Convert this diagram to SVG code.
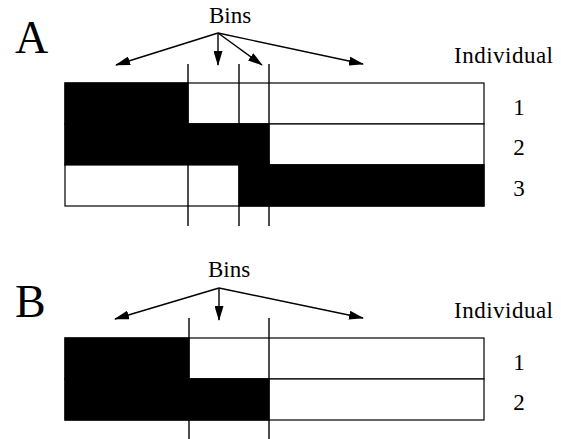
<svg xmlns="http://www.w3.org/2000/svg" width="561" height="439" viewBox="0 0 561 439">
<style>
text{font-family:"Liberation Serif","Times New Roman",Times,"Noto Serif","DejaVu Serif",serif;fill:#000}
.big{font-size:46px}
.lbl{font-size:23px}
.cell{fill:#fff;stroke:#000;stroke-width:1.2}
.blk{fill:#000;stroke:#000;stroke-width:1.2}
.vl{stroke:#000;stroke-width:1.4;fill:none}
.ar{stroke:#000;stroke-width:1.4;fill:none;marker-end:url(#ah)}
</style>
<defs>
<marker id="ah" viewBox="0 0 15 9" refX="14" refY="4.5" markerWidth="15" markerHeight="9" markerUnits="userSpaceOnUse" orient="auto">
<path d="M0,0 L15,4.5 L0,9 Z" fill="#000"/>
</marker>
</defs>
<rect width="561" height="439" fill="#fff"/>

<g id="panelA">
<text class="big" x="15" y="53" font-family="Liberation Serif, serif">A</text>
<g id="binsA"><text class="lbl" x="209" y="23" font-family="Liberation Serif, serif">Bins</text></g>
<g id="individualA"><text class="lbl" x="454" y="63" textLength="99" font-family="Liberation Serif, serif">Individual</text></g>
<g id="a-row1">
<rect class="cell" x="65" y="83" width="419" height="41"/>
<rect class="blk" x="65" y="83" width="123" height="41"/>
<text class="lbl" x="519" y="115" text-anchor="middle" font-family="Liberation Serif, serif">1</text>
</g>
<g id="a-row2">
<rect class="cell" x="65" y="124" width="419" height="41"/>
<rect class="blk" x="65" y="124" width="204" height="41"/>
<text class="lbl" x="519" y="155" text-anchor="middle" font-family="Liberation Serif, serif">2</text>
</g>
<g id="a-row3">
<rect class="cell" x="65" y="165" width="419" height="41"/>
<rect class="blk" x="239" y="165" width="245" height="41"/>
<text class="lbl" x="519" y="196" text-anchor="middle" font-family="Liberation Serif, serif">3</text>
</g>
<g id="a-bounds">
<line class="vl" x1="188" y1="64" x2="188" y2="226"/>
<line class="vl" x1="239" y1="64" x2="239" y2="226"/>
<line class="vl" x1="269" y1="64" x2="269" y2="226"/>
</g>
</g>

<g id="panelB">
<text class="big" x="15" y="317" font-family="Liberation Serif, serif">B</text>
<g id="binsB"><text class="lbl" x="208" y="277" font-family="Liberation Serif, serif">Bins</text></g>
<g id="individualB"><text class="lbl" x="454" y="318" textLength="99" font-family="Liberation Serif, serif">Individual</text></g>
<g id="b-row1">
<rect class="cell" x="65" y="338" width="419" height="41"/>
<rect class="blk" x="65" y="338" width="124" height="41"/>
<text class="lbl" x="519" y="370" text-anchor="middle" font-family="Liberation Serif, serif">1</text>
</g>
<g id="b-row2">
<rect class="cell" x="65" y="379" width="419" height="41"/>
<rect class="blk" x="65" y="379" width="204" height="41"/>
<text class="lbl" x="519" y="410" text-anchor="middle" font-family="Liberation Serif, serif">2</text>
</g>
<g id="b-bounds">
<line class="vl" x1="189" y1="318" x2="189" y2="439"/>
<line class="vl" x1="269" y1="318" x2="269" y2="439"/>
</g>
</g>

<g id="connectors">
<line class="ar" x1="218" y1="33" x2="116" y2="65"/>
<line class="ar" x1="218" y1="33" x2="218" y2="65"/>
<line class="ar" x1="218" y1="33" x2="262" y2="65"/>
<line class="ar" x1="218" y1="33" x2="363" y2="64"/>
<line class="ar" x1="219" y1="288" x2="115" y2="319"/>
<line class="ar" x1="219" y1="288" x2="219" y2="320"/>
<line class="ar" x1="219" y1="288" x2="363" y2="318"/>
</g>
</svg>
